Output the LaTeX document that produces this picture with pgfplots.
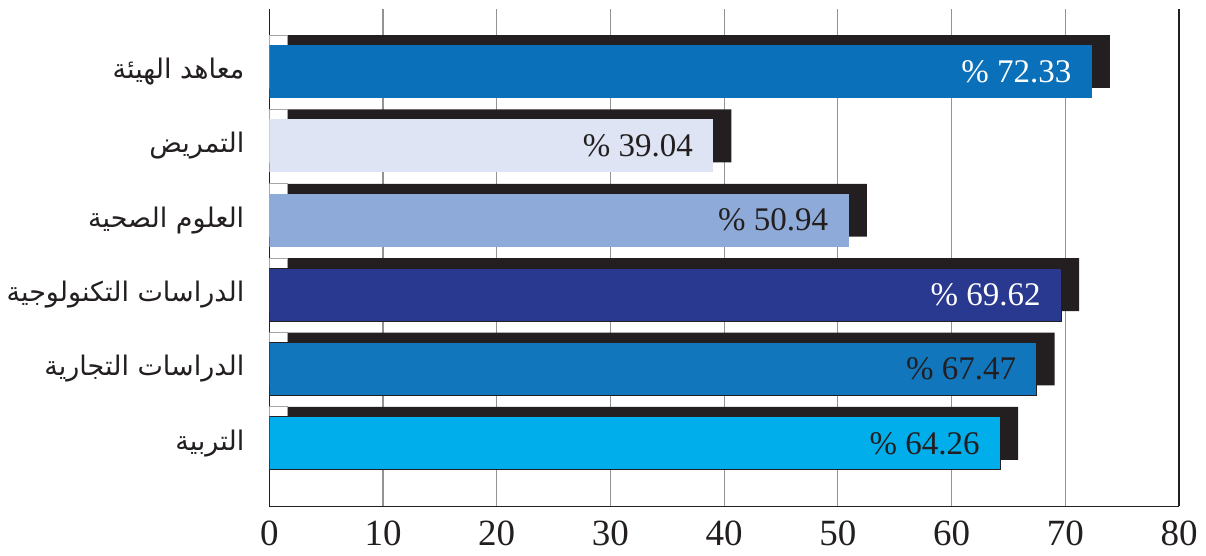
\documentclass[border=0pt]{standalone}
\usepackage{fontspec}
\setmainfont{Liberation Serif}
\newfontfamily\arabicfont[Script=Arabic]{DejaVu Sans}
\TeXXeTstate=1
\usepackage{pgfplots}
\pgfplotsset{compat=1.18}
\definecolor{ink}{HTML}{231F20}
\definecolor{cA}{HTML}{0A70B9}
\definecolor{cB}{HTML}{DFE4F4}
\definecolor{cC}{HTML}{8EAAD8}
\definecolor{cD}{HTML}{2A3990}
\definecolor{cE}{HTML}{1276BC}
\definecolor{cF}{HTML}{00AEEC}
\begin{document}
\begin{tikzpicture}
\begin{axis}[
  scale only axis, width=455pt, height=248.75pt,
  xmin=0, xmax=80, ymin=-0.847, ymax=5.84,
  xtick={0,10,...,80}, ytick={0,1,2,3,4,5},
  yticklabels={
    {\arabicfont\beginR التربية\endR},
    {\arabicfont\beginR الدراسات التجارية\endR},
    {\arabicfont\beginR الدراسات التكنولوجية\endR},
    {\arabicfont\beginR العلوم الصحية\endR},
    {\arabicfont\beginR التمريض\endR},
    {\arabicfont\beginR معاهد الهيئة\endR}},
  axis x line*=bottom, axis y line*=left,
  axis line style={-, ink, line width=0.8pt},
  major tick length=0pt,
  xmajorgrids, grid style={gray!85, line width=0.6pt},
  extra x ticks={80}, extra x tick labels={},
  extra x tick style={grid style={ink, line width=0.7pt}},
  /pgf/number format/assume math mode=true,
  x tick label style={font=\fontsize{18.5}{20}\selectfont, text=ink, yshift=-4pt},
  y tick label style={font=\fontsize{13.5}{15}\selectfont, text=ink, xshift=-9pt},
  xbar, bar width=0.712, bar shift=0pt,
  point meta=x,
  nodes near coords style={anchor=east, inner sep=0pt, xshift=-10pt,
    font=\fontsize{16.5}{18}\selectfont},
]
% shadows
\addplot[fill=ink, draw=none] coordinates {(73.93,5.134) (40.64,4.134) (52.54,3.134) (71.22,2.134) (69.07,1.134) (65.86,0.134)};
\addplot[fill=white, draw=gray!70, line width=0.4pt] coordinates {(1.6,5.134) (1.6,4.134) (1.6,3.134) (1.6,2.134) (1.6,1.134) (1.6,0.134)};
% bars
\addplot[fill=cA, draw=none, nodes near coords={\%~\pgfmathprintnumber[fixed,fixed zerofill,precision=2]{\pgfplotspointmeta}}, every node near coord/.append style={text=white}] coordinates {(72.33,5)};
\addplot[fill=cB, draw=none, nodes near coords={\%~\pgfmathprintnumber[fixed,fixed zerofill,precision=2]{\pgfplotspointmeta}}, every node near coord/.append style={text=ink}] coordinates {(39.04,4)};
\addplot[fill=cC, draw=none, nodes near coords={\%~\pgfmathprintnumber[fixed,fixed zerofill,precision=2]{\pgfplotspointmeta}}, every node near coord/.append style={text=ink}] coordinates {(50.94,3)};
\addplot[fill=cD, draw=ink, line width=0.4pt, nodes near coords={\%~\pgfmathprintnumber[fixed,fixed zerofill,precision=2]{\pgfplotspointmeta}}, every node near coord/.append style={text=white}] coordinates {(69.62,2)};
\addplot[fill=cE, draw=ink, line width=0.4pt, nodes near coords={\%~\pgfmathprintnumber[fixed,fixed zerofill,precision=2]{\pgfplotspointmeta}}, every node near coord/.append style={text=ink}] coordinates {(67.47,1)};
\addplot[fill=cF, draw=ink, line width=0.4pt, nodes near coords={\%~\pgfmathprintnumber[fixed,fixed zerofill,precision=2]{\pgfplotspointmeta}}, every node near coord/.append style={text=ink}] coordinates {(64.26,0)};
\end{axis}
\path[use as bounding box] (current axis.south west) ++(-134.5pt,-24.75pt) rectangle ++(603pt,278pt);
\end{tikzpicture}
\end{document}
